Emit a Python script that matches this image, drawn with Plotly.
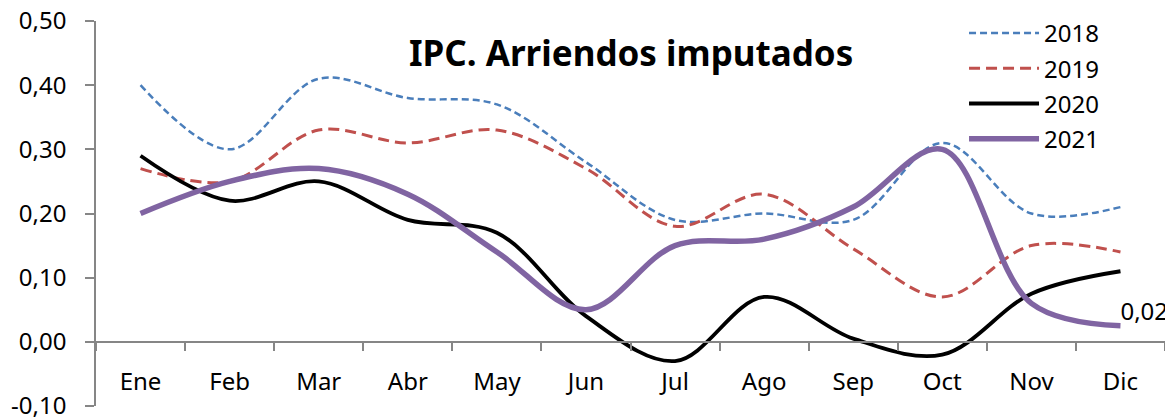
import plotly.graph_objects as go

months = ["Ene", "Feb", "Mar", "Abr", "May", "Jun", "Jul", "Ago", "Sep", "Oct", "Nov", "Dic"]
v2018 = [0.40, 0.30, 0.41, 0.38, 0.37, 0.28, 0.19, 0.20, 0.19, 0.31, 0.20, 0.21]
v2019 = [0.27, 0.25, 0.33, 0.31, 0.33, 0.27, 0.18, 0.23, 0.145, 0.07, 0.15, 0.14]
v2020 = [0.29, 0.22, 0.25, 0.19, 0.17, 0.04, -0.03, 0.07, 0.005, -0.02, 0.075, 0.11]
v2021 = [0.20, 0.25, 0.27, 0.23, 0.14, 0.05, 0.15, 0.16, 0.21, 0.30, 0.06, 0.025]
last_label = ["", "", "", "", "", "", "", "", "", "", "", "0,02"]
ytick_vals = [-0.10, 0.0, 0.10, 0.20, 0.30, 0.40, 0.50]
ytick_text = ["-0,10", "0,00", "0,10", "0,20", "0,30", "0,40", "0,50"]
title_text = "IPC. Arriendos imputados"

FONT = "Noto Sans"
FS = 24
fig = go.Figure()
fig.add_trace(go.Scatter(x=months, y=v2018, name="2018", mode="lines", legendgroup="a",
                         line=dict(color="#4A7EBB", width=2.5, dash="7px,4px", shape="spline")))
fig.add_trace(go.Scatter(x=months, y=v2019, name="2019", mode="lines", legendgroup="b",
                         line=dict(color="#C0504D", width=3, dash="11px,6px", shape="spline")))
fig.add_trace(go.Scatter(x=months, y=v2020, name="2020", mode="lines", legendgroup="c",
                         line=dict(color="#000000", width=3.8, shape="spline")))
fig.add_trace(go.Scatter(x=months, y=v2021, name="2021", mode="lines+text", legendgroup="d",
                         text=last_label, textposition="top right", cliponaxis=False,
                         textfont=dict(family=FONT, size=FS, color="#000000"),
                         line=dict(color="#8064A2", width=5.5, shape="spline")))

fig.add_annotation(text="<b>" + title_text + "</b>", xref="paper", yref="paper",
                   x=0.5, y=0.919, xanchor="center", yanchor="middle", showarrow=False,
                   font=dict(family=FONT, size=35, color="#000000"))

# page body has an 8px default margin: figure is sized/placed to compensate
fig.update_layout(
    width=1165, height=410,
    margin=dict(l=88, r=8, t=13, b=12, autoexpand=False),
    paper_bgcolor="white", plot_bgcolor="white",
    font=dict(family=FONT, size=FS, color="#000000"),
    showlegend=True,
    legend=dict(x=0.812, y=1.026, xanchor="left", yanchor="top", bgcolor="rgba(0,0,0,0)",
                font=dict(family=FONT, size=FS), tracegroupgap=1, itemwidth=70),
    xaxis=dict(type="category", range=[-0.5, 11.5], anchor="free", position=1/6,
               showline=True, linecolor="#868686", linewidth=1.5,
               ticks="outside", ticklen=8, tickcolor="#868686", tickwidth=1.5,
               tickson="boundaries", showgrid=False, zeroline=False,
               ticklabelstandoff=19, ticklabeloverflow="allow",
               tickfont=dict(family=FONT, size=FS)),
    yaxis=dict(range=[-0.10, 0.50], tickvals=ytick_vals, ticktext=ytick_text,
               showline=True, linecolor="#868686", linewidth=1.5,
               ticks="outside", ticklen=9, tickcolor="#868686", tickwidth=1.5,
               showgrid=False, zeroline=False, ticklabelstandoff=14,
               ticklabeloverflow="allow",
               tickfont=dict(family=FONT, size=FS)),
)

fig.write_html("out.html")
